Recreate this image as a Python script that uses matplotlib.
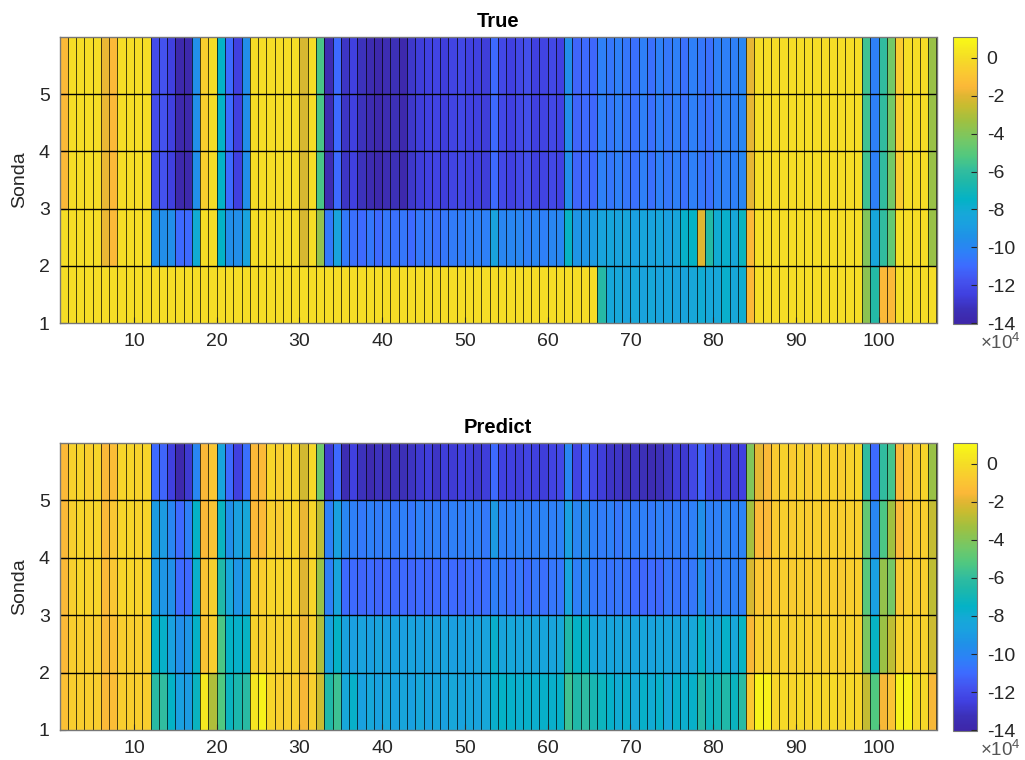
import numpy as np
import matplotlib as mpl
import matplotlib.pyplot as plt
from matplotlib.colors import LinearSegmentedColormap, Normalize

mpl.use('Agg')
mpl.rcParams['font.family'] = ['Liberation Sans', 'DejaVu Sans']
mpl.rcParams['axes.unicode_minus'] = False
mpl.rcParams['mathtext.fontset'] = 'custom'
mpl.rcParams['mathtext.rm'] = 'Liberation Sans'

# valores (x10^4) por sonda, columnas 1..106
true_upper = [
    -1.5, 0, 0, 0, 0, -1.8, -1.5, 0, 0, 0,
    0, -12.0, -11.8, -12.5, -13.8, -13.8, -9.6, -0.5, 0, -7.5,
    -11.0, -12.5, -9.6, 0, 0, 0, 0, 0, 0, -2.2,
    0, -5.4, -13.6, -11.0, -13.0, -12.5, -13.2, -13.6, -13.8, -13.5,
    -13.3, -13.8, -12.9, -12.6, -12.4, -12.3, -12.6, -12.3, -12.2, -12.4,
    -12.4, -12.6, -11.0, -12.2, -12.5, -12.2, -11.9, -12.5, -12.3, -12.2,
    -12.4, -9.6, -11.2, -11.0, -11.1, -10.3, -10.6, -10.3, -10.6, -10.8,
    -10.3, -10.8, -10.3, -10.6, -10.3, -10.8, -10.3, -10.6, -10.8, -10.3,
    -10.3, -10.3, -10.0, -1.9, 0, 0, 0, 0, 0, 0,
    0, 0, 0, 0, 0, 0, 0, -5.6, -10.3, -6.0,
    -4.4, -0.7, 0, 0, 0, -3.5]
true_row2 = [
    0, 0, 0, 0, 0, -1.8, -1.5, 0, 0, 0,
    0, -9.6, -9.6, -9.6, -11.0, -11.0, -8.0, 0, 0, -7.5,
    -9.6, -9.6, -8.6, 0, 0, 0, 0, 0, 0, -2.2,
    0, -3.6, -10.5, -8.6, -10.5, -10.8, -11.0, -10.6, -11.0, -10.6,
    -10.8, -10.6, -11.0, -10.6, -10.6, -10.8, -10.6, -10.4, -10.4, -10.3,
    -10.3, -10.3, -8.6, -10.0, -10.0, -10.0, -10.3, -10.0, -10.3, -10.0,
    -10.0, -7.4, -9.3, -9.3, -9.0, -8.5, -8.4, -8.6, -8.4, -8.8,
    -8.4, -8.6, -8.4, -8.8, -8.4, -7.6, -7.5, -2.0, -6.4, -8.0,
    -7.7, -8.3, -7.3, -1.5, 0, 0, 0, 0, 0, 0,
    0, 0, 0, 0, 0, 0, 0, -4.0, -8.4, -6.0,
    -4.8, 0, 0, 0, 0, -3.5]
true_row1 = [
    0, 0, 0, 0, 0, 0, 0, 0, 0, 0,
    0, 0, 0, 0, 0, 0, 0, 0, 0, 0,
    0, 0, 0, 0, 0, 0, 0, 0, 0, 0,
    0, 0, 0, 0, 0, 0, 0, 0, 0, 0,
    0, 0, 0, 0, 0, 0, 0, 0, 0, 0,
    0, 0, 0, 0, 0, 0, 0, 0, 0, 0,
    0, 0, 0, 0, 0, -6.3, -8.3, -8.3, -8.6, -8.3,
    -8.6, -8.3, -8.6, -8.4, -8.6, -8.5, -8.3, -8.0, -8.3, -8.3,
    -7.7, -8.3, -7.9, -1.5, 0, 0, 0, 0, 0, 0,
    0, 0, 0, 0, 0, 0, 0, -3.8, -6.4, -1.5,
    -1.5, 0, 0, 0, 0, 0]

pred_row5 = [
    -1.5, -0.4, -0.3, -0.6, -0.3, -1.5, -1.3, -0.3, -0.3, -0.4,
    -0.3, -11.0, -11.2, -12.5, -13.8, -12.8, -10.0, -1.5, -0.9, -8.5,
    -11.0, -12.5, -10.8, -1.5, -1.4, -0.3, -0.5, -0.3, -0.3, -2.3,
    -0.2, -4.5, -12.8, -11.0, -13.5, -12.5, -13.2, -13.6, -13.2, -13.5,
    -13.2, -13.3, -13.1, -12.8, -12.6, -13.0, -12.6, -12.7, -12.4, -12.6,
    -12.8, -12.6, -11.0, -12.4, -12.5, -12.6, -12.3, -12.5, -12.6, -12.3,
    -12.2, -10.0, -12.3, -11.0, -12.2, -12.6, -13.0, -13.0, -13.4, -13.1,
    -13.3, -13.5, -13.3, -13.0, -12.6, -12.8, -12.2, -11.2, -12.2, -12.5,
    -12.2, -12.7, -12.5, -4.0, -1.9, -1.5, -0.7, -0.4, -0.7, -0.4,
    -0.7, -0.4, -0.6, -0.4, -0.6, -0.4, -0.3, -6.0, -11.0, -6.0,
    -5.5, -1.5, -0.8, -0.5, -0.3, -3.5]
pred_row4 = [
    -1.5, -0.5, -0.3, -0.4, -0.3, -1.5, -0.9, -0.3, -0.3, -0.4,
    -0.3, -9.0, -9.0, -10.0, -11.0, -10.3, -7.5, -1.5, -1.0, -7.3,
    -9.5, -8.8, -8.3, -1.5, -1.4, -0.5, -0.7, -0.3, -0.3, -1.8,
    -0.3, -2.8, -10.3, -8.7, -10.0, -10.3, -10.5, -10.3, -10.4, -10.3,
    -10.5, -10.3, -10.6, -10.3, -10.4, -10.3, -10.5, -10.3, -10.4, -10.3,
    -10.3, -10.5, -9.0, -10.3, -10.3, -10.1, -10.3, -10.3, -10.1, -10.3,
    -10.2, -8.8, -10.0, -9.5, -10.3, -10.4, -10.3, -10.6, -10.3, -10.4,
    -10.3, -10.5, -10.3, -10.4, -10.3, -10.4, -10.3, -9.5, -10.3, -10.3,
    -10.0, -10.3, -10.1, -3.2, -1.5, -1.5, -0.7, -0.5, -0.7, -0.5,
    -0.7, -0.5, -0.7, -0.5, -0.6, -0.5, -0.5, -4.8, -10.0, -5.3,
    -3.3, -1.5, -0.8, -0.5, -0.5, -2.6]
pred_row3 = [
    -1.5, -0.5, -0.3, -0.4, -0.3, -1.5, -0.9, -0.3, -0.3, -0.4,
    -0.3, -9.0, -9.2, -9.5, -11.0, -11.0, -7.7, -1.0, -0.5, -6.5,
    -8.3, -9.3, -8.5, -0.6, -0.6, -0.3, -0.3, -0.3, -0.3, -2.0,
    -0.3, -3.5, -10.3, -8.5, -11.0, -11.0, -11.2, -11.0, -11.2, -11.0,
    -11.1, -11.0, -11.2, -11.0, -11.1, -11.0, -10.9, -11.0, -11.1, -10.9,
    -11.0, -10.9, -10.3, -10.6, -10.8, -10.6, -11.0, -10.6, -10.8, -10.6,
    -10.6, -8.5, -10.3, -9.5, -10.6, -10.6, -10.7, -10.6, -10.7, -11.0,
    -11.1, -11.0, -11.1, -10.6, -10.7, -10.6, -10.6, -9.5, -10.6, -10.3,
    -10.3, -10.3, -10.3, -2.2, -0.9, -0.9, -0.7, -0.6, -0.7, -0.6,
    -0.7, -0.6, -0.7, -0.6, -0.7, -0.6, -0.6, -5.0, -8.8, -3.6,
    -4.3, -0.8, -0.5, -0.5, -0.5, -2.7]
pred_row2 = [
    -1.5, -0.6, -0.6, -0.6, -0.6, -1.5, -1.2, -0.6, -0.6, -0.6,
    -0.6, -7.5, -7.6, -8.7, -9.5, -9.3, -7.5, -1.0, -0.5, -5.3,
    -7.5, -7.6, -7.4, -0.4, -0.5, -0.4, -0.4, -0.4, -0.4, -1.7,
    -0.4, -3.0, -8.7, -7.5, -8.7, -8.8, -8.6, -8.8, -8.6, -8.8,
    -8.7, -8.8, -8.6, -8.8, -8.7, -8.8, -8.6, -8.8, -8.7, -8.8,
    -8.6, -8.6, -7.7, -8.5, -8.3, -8.5, -8.3, -8.5, -8.4, -8.5,
    -8.3, -6.5, -7.5, -7.3, -8.4, -8.6, -8.4, -8.5, -8.4, -8.6,
    -8.4, -8.6, -8.4, -8.5, -8.4, -8.5, -8.3, -7.4, -8.3, -8.4,
    -7.6, -8.3, -7.4, -1.6, -0.5, -0.4, -0.5, -0.4, -0.5, -0.4,
    -0.5, -0.4, -0.5, -0.4, -0.5, -0.4, -0.5, -4.2, -7.4, -3.4,
    -2.7, -0.4, -0.4, -0.4, -0.4, -2.4]
pred_row1 = [
    -1.2, -0.6, -0.6, -0.6, -0.6, -1.5, -1.3, -0.6, -0.6, -0.6,
    -0.6, -6.2, -6.0, -7.5, -8.8, -9.0, -7.3, 0.4, -3.0, -5.2,
    -7.3, -6.7, -6.2, 0.3, 0.8, -0.3, -0.5, -0.5, -0.5, -1.6,
    -0.5, -2.5, -6.5, -5.7, -8.3, -7.6, -8.7, -8.3, -8.7, -8.3,
    -8.7, -8.4, -8.7, -8.3, -8.7, -8.4, -8.7, -8.3, -8.6, -8.4,
    -8.6, -8.3, -7.7, -7.5, -7.6, -7.8, -7.6, -7.8, -7.6, -7.7,
    -7.6, -5.6, -6.5, -6.1, -6.8, -7.2, -7.6, -8.0, -7.6, -8.3,
    -7.6, -8.0, -7.6, -8.3, -7.6, -7.8, -7.6, -6.3, -7.2, -7.0,
    -6.5, -7.3, -6.2, -0.8, 0.8, 0.8, -0.3, -0.1, -0.3, -0.1,
    -0.3, -0.1, -0.3, -0.1, -0.3, -0.2, -0.3, -2.6, -5.2, -1.6,
    -1.0, 0.8, 0.8, -0.2, -0.2, -1.6]

sondas = [1, 2, 3, 4, 5]
titulos = ['True', 'Predict']
vmin, vmax = -14.05, 1.1

# mapa tipo parula (valor, color)
anclas = [(-14.05, '#3e26a8'), (-13.3, '#3c30b8'), (-12.5, '#4040e0'),
          (-11.8, '#4452ee'), (-11.0, '#3d6bff'), (-10.3, '#2e80f8'),
          (-9.5, '#2090e8'), (-8.8, '#1aa0e0'), (-8.2, '#16a8d8'),
          (-7.5, '#04b2c6'), (-6.5, '#20b8a8'), (-6.0, '#30bca0'),
          (-5.2, '#50c880'), (-4.4, '#72c868'), (-3.3, '#a0c040'),
          (-2.5, '#c8bc30'), (-2.0, '#dfb632'), (-1.5, '#fbb838'),
          (-0.8, '#fac832'), (0.0, '#f5dc26'), (0.6, '#f6ec1e'),
          (1.1, '#f9fa14')]
parula = LinearSegmentedColormap.from_list(
    'parula', [((v - vmin) / (vmax - vmin), c) for v, c in anclas])
norm = Normalize(vmin=vmin, vmax=vmax)

datos = [np.array([true_row1, true_row2, true_upper, true_upper, true_upper]),
         np.array([pred_row1, pred_row2, pred_row3, pred_row4, pred_row5])]

W, H = 1025, 760
fig = plt.figure(figsize=(W / 100, H / 100), dpi=100)
gris = '#262626'

cajas = [(37, 323), (443, 730)]
for k in range(2):
    y0, y1 = cajas[k]
    ax = fig.add_axes([59.5 / W, 1 - y1 / H, 877 / W, (y1 - y0) / H])
    Z = datos[k]
    xe = np.arange(1, Z.shape[1] + 2)
    ye = np.arange(1, Z.shape[0] + 2)
    mesh = ax.pcolormesh(xe, ye, Z, cmap=parula, norm=norm,
                         edgecolors=(0, 0, 0, 0.7), linewidth=0.7)
    # separaciones entre sondas
    ax.hlines(sondas[1:], 1, Z.shape[1] + 1, colors='k', linewidth=1.0)
    ax.set_xlim(1, Z.shape[1] + 1)
    ax.set_ylim(1, Z.shape[0] + 1)
    ax.set_xticks(np.arange(10, 101, 10))
    ax.set_yticks(sondas)
    ax.tick_params(direction='in', length=4, labelsize=14, colors=gris,
                   pad=7)
    for s in ax.spines.values():
        s.set_color('#777777')
        s.set_linewidth(1.0)
    ax.set_title(titulos[k], fontsize=14.5, fontweight='bold', pad=7)
    ax.set_ylabel('Sonda', fontsize=14, color=gris, labelpad=8)

    cax = fig.add_axes([953 / W, 1 - (y1 + 1) / H, 24 / W, (y1 - y0 + 1) / H])
    cb = fig.colorbar(mesh, cax=cax)
    cb.set_ticks(np.arange(-14, 1, 2))
    cb.ax.tick_params(direction='in', length=4, labelsize=14, colors=gris,
                      pad=7)
    cb.outline.set_edgecolor('#777777')
    cb.outline.set_linewidth(0.8)
    fig.text(1000 / W, 1 - (y1 + 20) / H, r'$\times 10^{4}$', fontsize=13.5,
             color='#555555', ha='center', va='center')

fig.savefig('out.png', dpi=100)
